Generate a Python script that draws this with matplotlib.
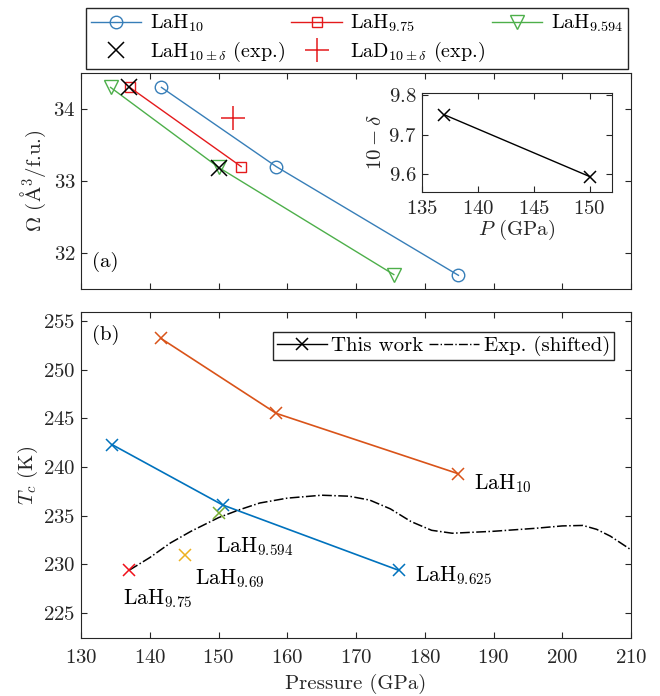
import numpy as np
import matplotlib
matplotlib.use('Agg')
import matplotlib.pyplot as plt
from matplotlib.lines import Line2D

plt.rcParams['font.family'] = 'serif'
plt.rcParams['font.serif'] = ['cmr10']
plt.rcParams['mathtext.fontset'] = 'cm'
plt.rcParams['axes.formatter.use_mathtext'] = True
plt.rcParams['axes.unicode_minus'] = False

# ---- data: panel (a), volume per formula unit ----
P_LaH10 = [141.7, 158.4, 184.9]
V_LaH10 = [34.30, 33.20, 31.69]
P_LaH975 = [137.1, 153.3]
V_LaH975 = [34.30, 33.20]
P_LaH9594 = [134.3, 150.0, 175.5]
V_LaH9594 = [34.30, 33.19, 31.70]
P_exp_H = [137.0, 150.0]
V_exp_H = [34.31, 33.18]
P_exp_D = [152.1]
V_exp_D = [33.88]

# inset: composition vs pressure
P_inset = [137.0, 150.0]
x_inset = [9.75, 9.594]

# ---- data: panel (b), Tc ----
P_tc_LaH10 = [141.6, 158.4, 184.9]
Tc_LaH10 = [253.2, 245.5, 239.3]
P_tc_LaH9625 = [134.5, 150.6, 176.2]
Tc_LaH9625 = [242.3, 236.1, 229.4]
P_tc_LaH9594 = [150.1]
Tc_LaH9594 = [235.3]
P_tc_LaH969 = [145.1]
Tc_LaH969 = [231.0]
P_tc_LaH975 = [137.0]
Tc_LaH975 = [229.4]

# experimental curve (shifted)
P_exp_curve = [137, 140, 143, 146, 150, 153, 156, 160, 165, 169, 172, 175,
               178, 181, 184, 190, 196, 200, 203, 205, 207, 210]
Tc_exp_curve = [229.4, 230.7, 232.2, 233.4, 234.8, 235.6, 236.3, 236.8, 237.1,
                237.0, 236.6, 235.7, 234.4, 233.5, 233.2, 233.4, 233.7, 233.95,
                234.0, 233.6, 232.9, 231.5]

c_blue_a = '#377EB8'
c_red_a = '#E41A1C'
c_green_a = '#4DAF4A'
c_blue = '#0072BD'
c_orange = '#D95319'
c_yellow = '#EDB120'
c_green = '#77AC30'
c_red = '#F0101A'
axcol = '#262626'

FS = 15

W, H = 660, 696
fig = plt.figure(figsize=(W / 100, H / 100), dpi=100)

def px_axes(l, t, r, b):
    return fig.add_axes([l / W, 1 - b / H, (r - l) / W, (b - t) / H])

def style(ax):
    ax.tick_params(direction='in', top=True, right=True, length=4, width=0.8,
                   colors=axcol, labelsize=FS, pad=4)
    for s in ax.spines.values():
        s.set_color(axcol)
        s.set_linewidth(0.8)

# ---- panel (a) ----
ax1 = px_axes(81, 73, 631, 289)
style(ax1)
l1, = ax1.plot(P_LaH10, V_LaH10, '-o', color=c_blue_a, mfc='none', ms=9, lw=1.0, mew=1.0)
l2, = ax1.plot(P_LaH975, V_LaH975, '-s', color=c_red_a, mfc='none', ms=7, lw=1.0, mew=1.0)
l3, = ax1.plot(P_LaH9594, V_LaH9594, '-v', color=c_green_a, mfc='none', ms=10, lw=1.0, mew=1.0)
l4, = ax1.plot(P_exp_H, V_exp_H, 'x', color='k', ms=11, mew=1.1, ls='none')
l5, = ax1.plot(P_exp_D, V_exp_D, '+', color=c_red_a, ms=17, mew=1.1, ls='none')
ax1.set_xlim(130, 210)
ax1.set_ylim(31.5, 34.5)
ax1.set_xticks(np.arange(130, 211, 10))
ax1.set_xticklabels([])
ax1.set_yticks([32, 33, 34])
ax1.set_ylabel(r'$\Omega$ ($\mathrm{\AA}^3$/f.u.)', fontsize=FS, color=axcol, labelpad=4)
ax1.text(0.02, 0.125, '(a)', transform=ax1.transAxes, fontsize=FS, va='center', ha='left')

# inset
axi = px_axes(422, 93, 612, 192)
style(axi)
axi.plot(P_inset, x_inset, '-x', color='k', ms=9, mew=1.1, lw=1.0)
axi.set_xlim(135, 152)
axi.set_ylim(9.555, 9.805)
axi.set_xticks([135, 140, 145, 150])
axi.set_yticks([9.6, 9.7, 9.8])
axi.tick_params(axis='x', pad=6)
axi.set_xlabel(r'$P$ (GPa)', fontsize=FS, color=axcol, labelpad=0)
axi.set_ylabel(r'$10-\delta$', fontsize=FS, color=axcol, labelpad=2)

fig.legend([l1, l4, l2, l5, l3],
           [r'LaH$_{10}$', r'LaH$_{10\pm\delta}$ (exp.)', r'LaH$_{9.75}$',
            r'LaD$_{10\pm\delta}$ (exp.)', r'LaH$_{9.594}$'],
           ncol=3, loc='center', bbox_to_anchor=(357 / W, 1 - 38.5 / H),
           fontsize=FS - 0.5, frameon=True, fancybox=False, edgecolor=axcol,
           framealpha=1, handlelength=2.5, handletextpad=0.4, columnspacing=0.35,
           borderpad=0.25, labelspacing=0.3)

# ---- panel (b) ----
ax2 = px_axes(81, 312, 631, 638)
style(ax2)
ax2.tick_params(axis='x', pad=8)
ax2.plot(P_tc_LaH10, Tc_LaH10, '-x', color=c_orange, ms=9, mew=1.1, lw=1.2)
ax2.plot(P_tc_LaH9625, Tc_LaH9625, '-x', color=c_blue, ms=9, mew=1.1, lw=1.2)
ax2.plot(P_exp_curve, Tc_exp_curve, '-.', color='k', lw=1.1)
ax2.plot(P_tc_LaH9594, Tc_LaH9594, 'x', color=c_green, ms=9, mew=1.1)
ax2.plot(P_tc_LaH969, Tc_LaH969, 'x', color=c_yellow, ms=9, mew=1.1)
ax2.plot(P_tc_LaH975, Tc_LaH975, 'x', color=c_red, ms=9, mew=1.1)
ax2.set_xlim(130, 210)
ax2.set_ylim(222.45, 255.9)
ax2.set_xticks(np.arange(130, 211, 10))
ax2.set_yticks(np.arange(225, 256, 5))
ax2.set_xlabel('Pressure (GPa)', fontsize=FS, color=axcol, labelpad=5)
ax2.set_ylabel(r'$T_c$ (K)', fontsize=FS, color=axcol, labelpad=2)
ax2.text(0.02, 0.929, '(b)', transform=ax2.transAxes, fontsize=FS, va='center', ha='left')

lab_kw = dict(fontsize=FS + 0.5, ha='left', va='center')
ax2.text(187.1, 238.3, r'LaH$_{10}$', **lab_kw)
ax2.text(178.6, 228.8, r'LaH$_{9.625}$', **lab_kw)
ax2.text(149.7, 231.8, r'LaH$_{9.594}$', **lab_kw)
ax2.text(146.6, 228.5, r'LaH$_{9.69}$', **lab_kw)
ax2.text(136.1, 226.5, r'LaH$_{9.75}$', **lab_kw)

h1 = Line2D([], [], color='k', marker='x', ms=9, mew=1.1, lw=1.0)
h2 = Line2D([], [], color='k', ls='-.', lw=1.0)
ax2.legend([h1, h2], ['This work', 'Exp. (shifted)'], ncol=2, loc='upper right',
           bbox_to_anchor=(0.969, 0.939), fontsize=FS, frameon=True, fancybox=False,
           edgecolor=axcol, framealpha=1, handlelength=2.4, handletextpad=0.2,
           columnspacing=0.3, borderpad=0.2, borderaxespad=0)

fig.savefig('out.png', dpi=100)
